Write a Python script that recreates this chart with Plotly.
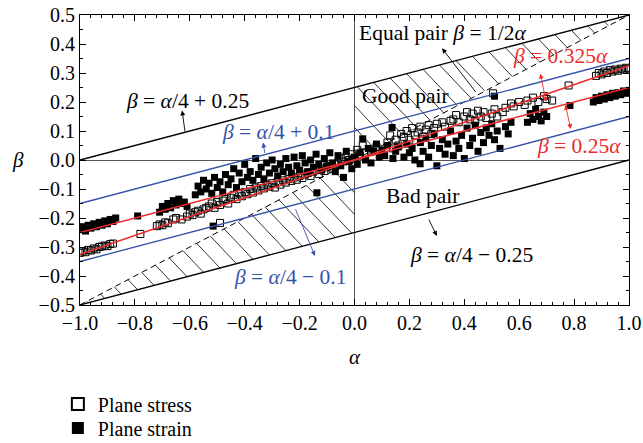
import plotly.graph_objects as go

# ---------------- data ----------------
stress_alpha = [-1.00, -0.99, -0.98, -0.97, -0.96, -0.95, -0.94, -0.93, -0.92, -0.91, -0.90, -0.89, -0.88,
                -0.78,
                -0.72, -0.71, -0.70, -0.69, -0.68, -0.66, -0.65, -0.63,
                -0.61, -0.60, -0.59, -0.58, -0.57, -0.56, -0.55, -0.54,
                -0.53, -0.52, -0.51, -0.50, -0.49, -0.48, -0.47, -0.46, -0.49,
                -0.45, -0.44, -0.43, -0.42, -0.41, -0.40, -0.39, -0.38, -0.37, -0.36, -0.35, -0.34,
                -0.33, -0.32, -0.31, -0.30, -0.29, -0.28, -0.27, -0.26, -0.25, -0.24, -0.23, -0.22, -0.21, -0.20, -0.19, -0.18,
                -0.17, -0.16, -0.15, -0.14, -0.13, -0.12, -0.11, -0.10, -0.09, -0.08, -0.07,
                -0.06, -0.05, -0.04, -0.03, -0.02, -0.01, 0.00, 0.01, 0.02, 0.03, 0.04,
                0.06, 0.08,
                0.12, 0.13, 0.14, 0.15, 0.16, 0.17,
                0.18, 0.19, 0.20, 0.21, 0.22, 0.23, 0.24, 0.25, 0.26, 0.27, 0.28, 0.29,
                0.30, 0.32, 0.33, 0.35,
                0.36, 0.37, 0.38, 0.40, 0.41, 0.42, 0.43, 0.44, 0.45, 0.46, 0.47, 0.48, 0.50, 0.505,
                0.51, 0.52, 0.54, 0.55,
                0.57, 0.58, 0.60, 0.62,
                0.63, 0.65, 0.67, 0.69, 0.70, 0.72,
                0.78,
                0.88, 0.89, 0.90, 0.91, 0.92, 0.93, 0.94, 0.95, 0.96, 0.97, 0.98, 0.99, 1.00]
stress_beta = [-0.320, -0.315, -0.318, -0.310, -0.312, -0.305, -0.308, -0.300, -0.298, -0.295, -0.297, -0.290, -0.288,
               -0.255,
               -0.228, -0.222, -0.225, -0.215, -0.218, -0.205, -0.200, -0.205,
               -0.195, -0.185, -0.190, -0.180, -0.175, -0.185, -0.170, -0.165,
               -0.160, -0.150, -0.165, -0.145, -0.155, -0.140, -0.135, -0.150, -0.217,
               -0.130, -0.120, -0.135, -0.115, -0.125, -0.110, -0.118, -0.100, -0.112, -0.095, -0.105, -0.090,
               -0.098, -0.085, -0.092, -0.080, -0.095, -0.075, -0.085, -0.070, -0.078, -0.065, -0.072, -0.060, -0.068, -0.055, -0.062, -0.050,
               -0.045, -0.055, -0.040, -0.035, -0.048, -0.030, -0.038, -0.025, -0.020, -0.030, -0.015,
               -0.010, 0.005, -0.005, 0.010, 0.000, 0.020, 0.005, 0.035, 0.015, 0.050, 0.025,
               0.030, 0.045,
               0.060, 0.085, 0.040, 0.070, 0.050, 0.090,
               0.080, 0.100, 0.070, 0.110, 0.085, 0.095, 0.115, 0.080, 0.105, 0.120, 0.090, 0.110,
               0.125, 0.130, 0.115, 0.135,
               0.140, 0.155, 0.130, 0.150, 0.165, 0.140, 0.160, 0.135, 0.170, 0.150, 0.165, 0.145, 0.160, 0.230,
               0.175, 0.150, 0.165, 0.180,
               0.195, 0.185, 0.200, 0.190,
               0.205, 0.215, 0.200, 0.220, 0.210, 0.205,
               0.257,
               0.290, 0.300, 0.295, 0.305, 0.300, 0.310, 0.305, 0.312, 0.308, 0.315, 0.312, 0.318, 0.315]

strain_alpha = [-1.00, -0.99, -0.98, -0.97, -0.96, -0.95, -0.94, -0.93, -0.92, -0.91, -0.90, -0.89, -0.88, -0.87,
                -0.79,
                -0.71, -0.70, -0.69, -0.68, -0.67, -0.66, -0.65, -0.64, -0.63, -0.62, -0.61,
                -0.58, -0.57, -0.56, -0.55, -0.54, -0.53, -0.52, -0.51, -0.50, -0.49, -0.48, -0.47, -0.46, -0.45,
                -0.44, -0.43, -0.42, -0.41, -0.40, -0.39,
                -0.38, -0.37, -0.36, -0.35, -0.34, -0.33, -0.32, -0.31, -0.30, -0.29, -0.28, -0.27, -0.26, -0.25, -0.24,
                -0.23, -0.22, -0.21, -0.20, -0.19, -0.18, -0.17, -0.16, -0.15, -0.14, -0.13, -0.12, -0.11, -0.10,
                -0.137, -0.515,
                -0.09, -0.08, -0.07, -0.06, -0.05, -0.04, -0.03, -0.02, -0.01, 0.00,
                0.01, 0.02, 0.03, 0.04, 0.05, 0.06, 0.07, 0.08, 0.09, 0.10,
                0.11, 0.12, 0.137, 0.14, 0.15, 0.16, 0.18, 0.19, 0.20, 0.21, 0.22,
                0.239, 0.24, 0.25, 0.26, 0.27, 0.28, 0.29, 0.30, 0.31, 0.32, 0.33, 0.34,
                0.35, 0.36, 0.37, 0.38, 0.39, 0.40, 0.41, 0.42,
                0.43, 0.44, 0.45, 0.46, 0.47, 0.48, 0.49, 0.50, 0.51, 0.52, 0.53, 0.55, 0.56, 0.57, 0.51,
                0.63, 0.64, 0.65, 0.66, 0.67, 0.68, 0.69, 0.70,
                0.785,
                0.87, 0.88, 0.89, 0.90, 0.91, 0.92, 0.93, 0.94, 0.95, 0.96, 0.97, 0.98, 0.99, 1.00]
strain_beta = [-0.240, -0.230, -0.245, -0.225, -0.235, -0.220, -0.230, -0.215, -0.225, -0.210, -0.220, -0.205, -0.212, -0.200,
               -0.193,
               -0.180, -0.160, -0.170, -0.150, -0.165, -0.140, -0.155, -0.135, -0.150, -0.145, -0.160,
               -0.120, -0.090, -0.110, -0.070, -0.100, -0.080, -0.115, -0.060, -0.095, -0.075, -0.110, -0.050, -0.085, -0.065,
               -0.030, -0.095, -0.045, -0.075, -0.015, -0.060,
               -0.040, -0.070, 0.005, -0.050, -0.025, -0.065, -0.010, -0.045, 0.000, -0.030, -0.055, -0.015, -0.040, 0.005, -0.025,
               -0.045, 0.010, -0.020, -0.035, 0.015, -0.010, -0.040, 0.000, -0.025, 0.020, -0.015, -0.035, 0.005, -0.020,
               -0.113, -0.228,
               0.025, -0.010, -0.040, 0.015, -0.020, -0.060, 0.030, -0.005, -0.030, 0.010,
               -0.015, 0.025, 0.073, 0.000, 0.040, -0.010, 0.030, 0.055, 0.010, 0.035,
               0.015, 0.050, 0.112, 0.005, 0.030, 0.045, 0.010, 0.055, 0.025, 0.040, 0.000,
               -0.013, 0.060, 0.030, 0.075, 0.010, 0.050, 0.090, -0.020, 0.040, 0.070, 0.020, 0.055,
               0.100, 0.015, 0.065, 0.040, 0.085, 0.005, 0.110, 0.050,
               0.075, 0.120, 0.030, 0.095, 0.060, 0.110, 0.085, 0.125, 0.070, 0.100, 0.040, 0.115, 0.090, 0.130, 0.220,
               0.130, 0.160, 0.140, 0.175, 0.150, 0.135, 0.165, 0.150,
               0.188,
               0.200, 0.215, 0.205, 0.220, 0.210, 0.225, 0.215, 0.230, 0.220, 0.232, 0.225, 0.238, 0.230, 0.240]

x_ticks = [-1.0, -0.8, -0.6, -0.4, -0.2, 0.0, 0.2, 0.4, 0.6, 0.8, 1.0]
y_ticks = [-0.5, -0.4, -0.3, -0.2, -0.1, 0.0, 0.1, 0.2, 0.3, 0.4, 0.5]

FONT = "Liberation Serif"
BLUE = "#3652a8"
RED = "#ee2a2a"
ANN_SIZE = 21.5

fig = go.Figure()

# ---------------- hatching (derived from the boundary equations) ----------------
hx, hy = [], []
step = 0.075
c = -1.5 + step / 2
while c < 0.0:
    a1 = 2 * c / 3
    a2 = 0.8 * (c + 0.25)
    if -1 <= a1 <= 0:
        if a2 > 0:
            a2 = 0.0
        hx += [a1, a2, None]
        hy += [-a1 + c, -a2 + c, None]
    c += step
c = step / 2
while c < 1.5:
    a1 = 0.8 * (c - 0.25)
    a2 = 2 * c / 3
    if a1 < 0:
        a1 = 0.0
    if a2 <= 1:
        hx += [a1, a2, None]
        hy += [-a1 + c, -a2 + c, None]
    c += step
fig.add_trace(go.Scatter(x=hx, y=hy, mode="lines", line=dict(color="black", width=0.8),
                         showlegend=False, hoverinfo="skip"))

# ---------------- data markers ----------------
fig.add_trace(go.Scatter(x=stress_alpha, y=stress_beta, mode="markers", name="Plane stress",
                         legend="legend",
                         marker=dict(symbol="square-open", size=7, color="black",
                                     line=dict(width=1, color="black"))))
fig.add_trace(go.Scatter(x=strain_alpha, y=strain_beta, mode="markers", name="Plane strain",
                         legend="legend2",
                         marker=dict(symbol="square", size=7, color="black")))

# ---------------- reference lines ----------------
ax_ends = [-1.0, 1.0]
def add_line(slope, icpt, color, width=1.2, dash="solid"):
    fig.add_trace(go.Scatter(x=ax_ends, y=[slope * a + icpt for a in ax_ends], mode="lines",
                             line=dict(color=color, width=width, dash=dash),
                             showlegend=False, hoverinfo="skip"))

add_line(0.5, 0.0, "black", 1.0, "6px,4px")
add_line(0.25, 0.25, "black", 1.3)
add_line(0.25, -0.25, "black", 1.3)
add_line(0.25, 0.1, BLUE, 1.3)
add_line(0.25, -0.1, BLUE, 1.3)
add_line(0.325, 0.0, RED, 1.6)
add_line(0.25, 0.0, RED, 1.6)

# ---------------- annotations ----------------
ann = []
def text(x, y, s, color="black", size=ANN_SIZE):
    ann.append(dict(x=x, y=y, xref="x", yref="y", text=s, showarrow=False,
                    font=dict(family=FONT, size=size, color=color)))

def arrow(tx, ty, hx_, hy_, color="black", both=False):
    ann.append(dict(x=hx_, y=hy_, ax=tx, ay=ty, xref="x", yref="y", axref="x", ayref="y",
                    text="", showarrow=True, arrowhead=2, arrowsize=1.1, arrowwidth=0.9,
                    arrowcolor=color, arrowside="end+start" if both else "end",
                    startarrowhead=2, startarrowsize=1.1))

text(-0.61, 0.205, "<i>β</i> = <i>α</i>/4 + 0.25")
text(-0.279, 0.098, "<i>β</i> = <i>α</i>/4 + 0.1", BLUE)
text(0.322, 0.437, "Equal pair <i>β</i> = 1/2<i>α</i>")
text(0.184, 0.219, "Good pair")
text(0.752, 0.357, "<i>β</i> = 0.325<i>α</i>", RED)
text(0.818, 0.049, "<i>β</i> = 0.25<i>α</i>", RED)
text(0.246, -0.124, "Bad pair")
text(0.428, -0.328, "<i>β</i> = <i>α</i>/4 − 0.25")
text(-0.235, -0.404, "<i>β</i> = <i>α</i>/4 − 0.1", BLUE)

arrow(-0.617, 0.094, -0.628, 0.171)
arrow(-0.326, 0.019, -0.333, 0.060, BLUE)
arrow(0.446, 0.229, 0.319, 0.385)
arrow(0.676, 0.303, 0.698, 0.200, RED, both=True)
arrow(0.767, 0.195, 0.788, 0.107, RED, both=True)
arrow(-0.217, -0.165, -0.144, -0.331, BLUE)
arrow(0.268, -0.200, 0.300, -0.262)

fig.update_layout(annotations=ann)
fig.add_annotation(x=0.5, y=-0.18, xref="paper", yref="paper", text="<i>α</i>", showarrow=False,
                   font=dict(family=FONT, size=21, color="black"), yanchor="middle")
fig.add_annotation(x=-0.113, y=0.5, xref="paper", yref="paper", text="<i>β</i>", showarrow=False,
                   font=dict(family=FONT, size=21, color="black"), xanchor="center")

axis_common = dict(showgrid=False, zeroline=True, zerolinecolor="#555", zerolinewidth=1,
                   showline=True, linecolor="black", linewidth=1.2, mirror="allticks",
                   ticks="inside", ticklen=6, tickcolor="black",
                   tickfont=dict(family=FONT, size=20, color="black"), tickformat=".1f",
                   automargin=False)

fig.update_xaxes(range=[-1, 1], tickvals=x_ticks,
                 minor=dict(dtick=0.04, tick0=-1, ticks="inside", ticklen=3, tickcolor="black"),
                 **axis_common)
fig.update_yaxes(range=[-0.5, 0.5], tickvals=y_ticks,
                 minor=dict(dtick=0.05, tick0=-0.5, ticks="inside", ticklen=3, tickcolor="black"),
                 **axis_common)

leg_common = dict(xref="container", yref="container", x=0.09, xanchor="left", yanchor="middle",
                  font=dict(family=FONT, size=20, color="black"),
                  bgcolor="rgba(0,0,0,0)", itemsizing="constant")

fig.update_layout(
    width=643, height=443,
    margin=dict(l=80, r=14, t=15, b=138, autoexpand=False),
    paper_bgcolor="white", plot_bgcolor="white",
    font=dict(family=FONT, size=19, color="black"),
    legend=dict(y=1 - 404 / 443, **leg_common),
    legend2=dict(y=1 - 428 / 443, **leg_common),
    showlegend=True,
)

fig.write_html("out.html")
